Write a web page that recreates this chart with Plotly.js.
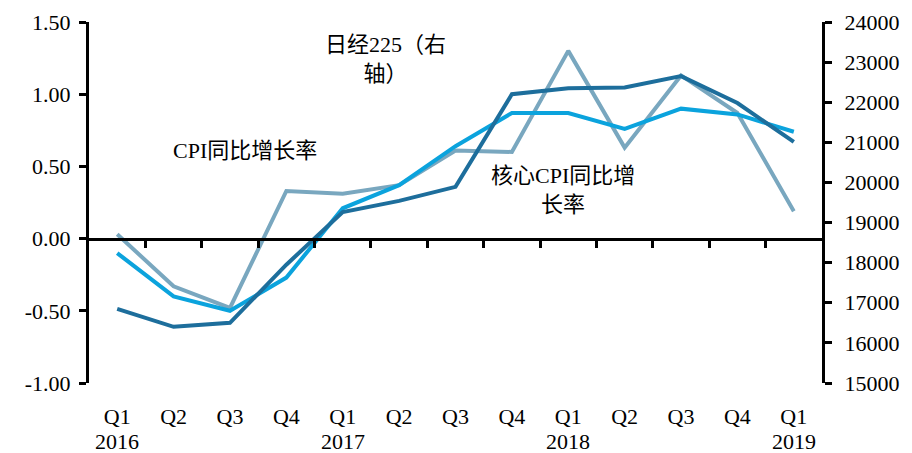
<!DOCTYPE html>
<html>
<head>
<meta charset="utf-8">
<script src="https://cdn.plot.ly/plotly-3.0.1.min.js"></script>
<style>
  html, body { margin: 0; padding: 0; background: #fff; }
  #chart { width: 912px; height: 453px; }
</style>
</head>
<body>
<div id="chart"></div>
<script>
'use strict';

// quarters, Q1 2016 .. Q1 2019
const quarters = ['Q1', 'Q2', 'Q3', 'Q4', 'Q1', 'Q2', 'Q3', 'Q4', 'Q1', 'Q2', 'Q3', 'Q4', 'Q1'];
const years = ['2016', '2017', '2018', '2019'];
const yearAt = [0, 4, 8, 12];
const cpiYoY = [0.03, -0.33, -0.48, 0.33, 0.31, 0.37, 0.61, 0.60, 1.30, 0.63, 1.13, 0.87, 0.19];
const coreCpiYoY = [-0.10, -0.40, -0.50, -0.27, 0.21, 0.37, 0.64, 0.87, 0.87, 0.76, 0.90, 0.86, 0.74];
const nikkei225 = [16850, 16400, 16500, 17950, 19260, 19540, 19890, 22200, 22350, 22370, 22650, 21980, 21010];

const idx = quarters.map((_, i) => i);
const boundaries = idx.slice(1).map(i => i - 0.5);
const FONT = 'Liberation Serif, "Noto Sans CJK SC", serif';

// paper coords from pixel position in the 912x453 frame
const px = x => (x - 89) / 733;
const py = y => 1 - (y - 22) / 361;

const traces = [
    { x: idx, y: cpiYoY, type: 'scatter', mode: 'lines', line: { color: '#79a7bf', width: 4 }, name: 'CPI同比增长率' },
    { x: idx, y: coreCpiYoY, type: 'scatter', mode: 'lines', line: { color: '#0ba3dd', width: 4 }, name: '核心CPI同比增长率' },
    { x: idx, y: nikkei225, type: 'scatter', mode: 'lines', yaxis: 'y2', line: { color: '#1d6e9c', width: 4 }, name: '日经225' },
    // carrier for the zero-line axis with the ticks between quarters
    { x: [0], y: [0], xaxis: 'x2', type: 'scatter', mode: 'markers', marker: { opacity: 0 }, hoverinfo: 'skip' },
];

const labelNotes = [
    { text: '日经225（右<br>轴）', x: 385, y: 59 },
    { text: 'CPI同比增长率', x: 245, y: 150 },
    { text: '核心CPI同比增<br>长率', x: 563, y: 190 },
].map(a => ({
    text: a.text, showarrow: false,
    xref: 'paper', yref: 'paper', x: px(a.x), y: py(a.y),
    xanchor: 'center', yanchor: 'middle', align: 'center',
    font: { family: FONT, size: 22, color: '#000' },
}));

const yearNotes = years.map((t, i) => ({
    text: t, showarrow: false,
    xref: 'x', yref: 'paper', x: yearAt[i], y: py(441),
    xanchor: 'center', yanchor: 'middle',
    font: { family: FONT, size: 22, color: '#000' },
}));

const layout = {
    width: 912, height: 453,
    margin: { l: 89, r: 90, t: 22, b: 70 },
    paper_bgcolor: '#fff', plot_bgcolor: '#fff',
    showlegend: false,
    font: { family: FONT, size: 22, color: '#000' },
    xaxis: {
        range: [-0.5, 12.5], tickvals: idx, ticktext: quarters,
        showgrid: false, zeroline: false, showline: false,
        ticks: 'outside', ticklen: 14, tickcolor: 'rgba(0,0,0,0)',
        tickfont: { size: 22 },
    },
    xaxis2: {
        overlaying: 'x', anchor: 'free', position: 0.4,
        range: [-0.5, 12.5], tickvals: boundaries,
        showgrid: false, zeroline: false, showline: true, linecolor: '#000', linewidth: 3,
        ticks: 'outside', ticklen: 7, tickwidth: 3, tickcolor: '#000', showticklabels: false,
    },
    yaxis: {
        range: [-1, 1.5], tickvals: [-1, -0.5, 0, 0.5, 1, 1.5],
        ticktext: ['-1.00', '-0.50', '0.00', '0.50', '1.00', '1.50'],
        showgrid: false, zeroline: false, showline: true, linecolor: '#000', linewidth: 3,
        ticks: 'outside', ticklen: 7, tickwidth: 3, tickcolor: '#000',
        ticklabelstandoff: 4,
    },
    yaxis2: {
        overlaying: 'y', side: 'right',
        range: [15000, 24000], dtick: 1000, tickformat: 'd',
        showgrid: false, zeroline: false, showline: true, linecolor: '#000', linewidth: 3,
        ticks: 'outside', ticklen: 7, tickwidth: 3, tickcolor: '#000',
        ticklabelstandoff: 8,
    },
    annotations: labelNotes.concat(yearNotes),
};

Plotly.newPlot('chart', traces, layout, { displayModeBar: false, staticPlot: true });
</script>
</body>
</html>
